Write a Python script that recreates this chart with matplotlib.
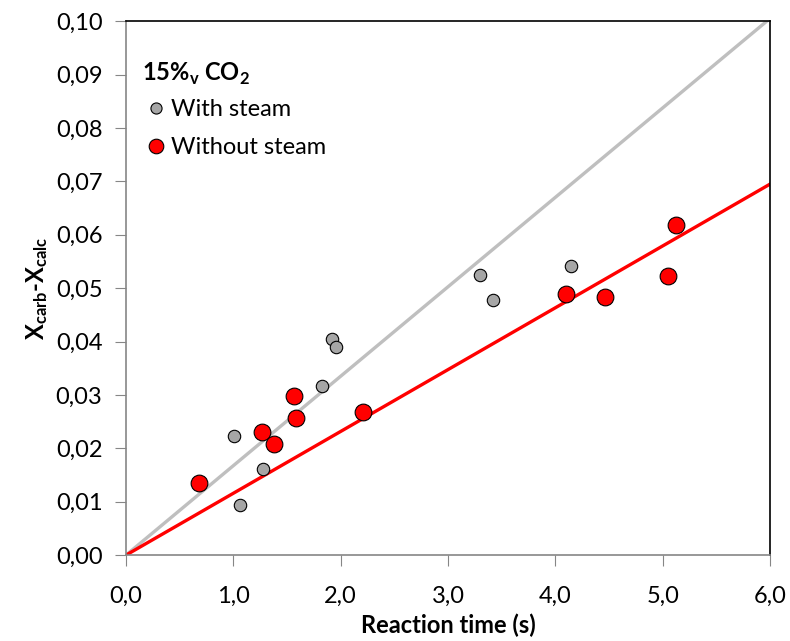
import matplotlib
matplotlib.use("Agg")
import matplotlib.pyplot as plt
from matplotlib.lines import Line2D
import numpy as np

plt.rcParams['font.family'] = ['Lato', 'DejaVu Sans']
plt.rcParams['mathtext.fontset'] = 'custom'
plt.rcParams['mathtext.rm'] = 'Lato'
plt.rcParams['mathtext.bf'] = 'Lato:bold'

# With steam
t_steam = [1.01, 1.06, 1.28, 1.83, 1.92, 1.96, 3.30, 3.42, 4.15]
x_steam = [0.0223, 0.0093, 0.0161, 0.0316, 0.0404, 0.0390, 0.0524, 0.0478, 0.0542]

# Without steam
t_dry = [0.68, 1.265, 1.377, 1.563, 1.58, 2.21, 4.10, 4.465, 5.05, 5.12]
x_dry = [0.0135, 0.0230, 0.0208, 0.0298, 0.0257, 0.0268, 0.0489, 0.0483, 0.0522, 0.0618]

# Slopes of the fitted lines through the origin
slope_steam = 0.01675
slope_dry = 0.01158

xticks = [0, 1, 2, 3, 4, 5, 6]
yticks = [0.00, 0.01, 0.02, 0.03, 0.04, 0.05, 0.06, 0.07, 0.08, 0.09, 0.10]

FS = 17

fig = plt.figure(figsize=(7.9, 6.41), dpi=100)
ax = fig.add_axes([0.1595, 0.134, 0.8152, 0.833])

xl = np.array([0, 6.0])
ax.plot(xl, slope_steam * xl, color='#bfbfbf', lw=2.4, zorder=2)
ax.plot(xl, slope_dry * xl, color='#ff0000', lw=2.4, zorder=2)

ax.scatter(t_steam, x_steam, s=80, c='#a6a6a6', edgecolors='black', linewidths=0.8, zorder=3)
ax.scatter(t_dry, x_dry, s=145, c='#ff0000', edgecolors='black', linewidths=0.8, zorder=4)

ax.set_xlim(0, 6)
ax.set_ylim(0, 0.10)
ax.set_xticks(xticks)
ax.set_yticks(yticks)
ax.set_xticklabels([f"{v:.1f}".replace('.', ',') for v in xticks])
ax.set_yticklabels([f"{v:.2f}".replace('.', ',') for v in yticks])

for s in ['top', 'right']:
    ax.spines[s].set_color('black')
    ax.spines[s].set_linewidth(1.2)
for s in ['left', 'bottom']:
    ax.spines[s].set_color('#868686')
    ax.spines[s].set_linewidth(1.2)
ax.tick_params(axis='both', direction='out', length=8, color='#868686',
               labelsize=FS, pad=6)
ax.tick_params(axis='y', pad=9)
ax.tick_params(axis='x', pad=14)

ax.set_xlabel('Reaction time (s)', fontsize=FS, fontweight='bold', labelpad=5)
ax.set_ylabel(r'$\mathbf{X_{carb}}$-$\mathbf{X_{calc}}$', fontsize=FS,
              fontweight='bold', labelpad=4)

handles = [
    Line2D([], [], ls='none', marker='o', ms=8.0, mfc='#a6a6a6', mec='black', mew=0.8),
    Line2D([], [], ls='none', marker='o', ms=10.5, mfc='#ff0000', mec='black', mew=0.8),
]
leg = ax.legend(handles, ['With steam', 'Without steam'],
                title=r'15%$_\mathbf{v}$ CO$_\mathbf{2}$',
                loc='upper left', bbox_to_anchor=(-0.005, 0.962),
                frameon=False, fontsize=FS, handletextpad=0.05,
                handlelength=1.2, labelspacing=0.72, borderpad=0.3)
leg.get_title().set_fontweight('bold')
leg.get_title().set_fontsize(FS)
leg._legend_box.align = 'left'
leg._legend_box.sep = 9

fig.savefig('out.png', dpi=100)
